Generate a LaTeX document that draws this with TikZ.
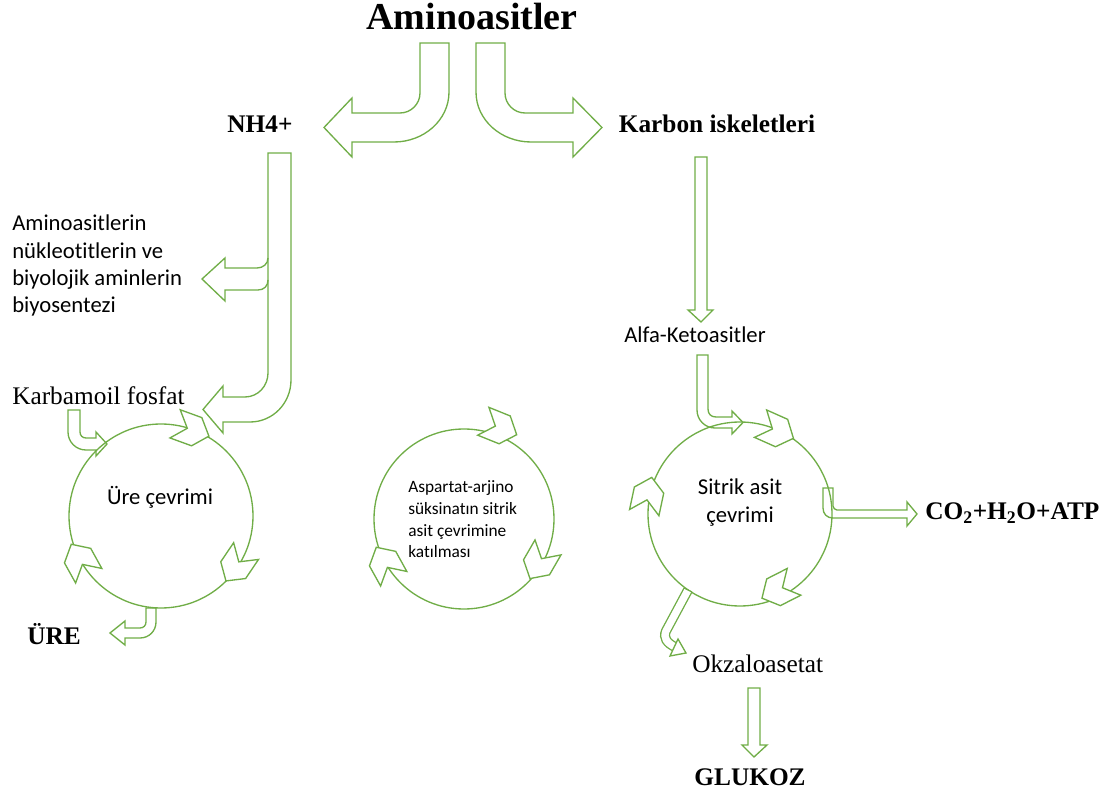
\documentclass[tikz,border=0pt]{standalone}
\usepackage{fontspec}
\setmainfont{Liberation Serif}
\newfontfamily\calib[Ligatures=NoCommon]{Carlito}
\definecolor{grn}{RGB}{112,173,71}
\tikzset{
  blk/.style={draw=grn, line width=1pt, line join=miter},
  cyc/.style={draw=grn, line width=1pt},
  chev/.pic={\draw[draw=grn, line width=1pt, fill=white, line join=miter] (-5,0) -- (-18,-15) -- (5,-15) -- (18,0) -- (5,15) -- (-18,15) -- cycle;},
  lbl/.style={font=\fontsize{19}{23}\selectfont, inner sep=0pt},
  blbl/.style={font=\bfseries\fontsize{19}{23}\selectfont, inner sep=0pt},
  slbl/.style={font=\calib\fontsize{17}{20.5}\selectfont, inner sep=0pt},
}
\begin{document}
\begin{tikzpicture}[x=0.75pt,y=-0.75pt]
\useasboundingbox (0,0) rectangle (1115,798);

% cycles
\draw[cyc] (161,516) circle[radius=92];
\draw[cyc] (464,519) circle[radius=90];
\draw[cyc] (740,514) circle[radius=92];

% chevrons on cycles
\pic[rotate=-20] at (192,430) {chev};
\pic[rotate=-124] at (236,566) {chev};
\pic[rotate=119] at (80,560) {chev};
\pic[rotate=-22] at (500,428) {chev};
\pic[rotate=-120] at (539,563) {chev};
\pic[rotate=119] at (385,563) {chev};
\pic[rotate=-24] at (777,431) {chev};
\pic[rotate=-153] at (778,590) {chev};
\pic[rotate=78] at (648,495) {chev};

% texts
\node[blbl, font=\bfseries\fontsize{28.5}{34}\selectfont, anchor=base] (title) at (472,30) {Aminoasitler};
\node[blbl, anchor=base] (nh4) at (260,133) {NH4+};
\node[blbl, anchor=base] (karbon) at (717,133) {Karbon iskeletleri};
\node[slbl, anchor=base west, align=left] (biyo) at (12,313) {Aminoasitlerin\\nükleotitlerin ve\\biyolojik aminlerin\\biyosentezi};
\node[lbl, anchor=base west] (karbamoil) at (12,405) {Karbamoil fosfat};
\node[slbl, anchor=base] (ure) at (160,505) {Üre çevrimi};
\node[blbl, anchor=base west] (urefinal) at (27,645) {ÜRE};
\node[font=\calib\fontsize{13}{16.3}\selectfont, inner sep=0pt, anchor=base west, align=left] (asp) at (408,558) {Aspartat-arjino\\süksinatın sitrik\\asit çevrimine\\katılması};
\node[slbl, anchor=base] (alfa) at (695,343) {Alfa-Ketoasitler};
\node[slbl, anchor=base, align=center, font=\calib\fontsize{17}{21}\selectfont] (sitrik) at (740,523) {Sitrik asit\\çevrimi};
\node[blbl, anchor=base west] (co2) at (925,520) {CO\textsubscript{2}+H\textsubscript{2}O+ATP};
\node[lbl, anchor=base west] (okza) at (692,672) {Okzaloasetat};
\node[blbl, anchor=base] (glukoz) at (750,785) {GLUKOZ};

% J arrow to NH4+
\draw[blk] (420,43) -- (449,43) -- (449,92) .. controls (449,120) and (424,142) .. (394,142)
  -- (352,142) -- (352,157) -- (324,127.5) -- (352,98) -- (352,113) -- (400,113)
  .. controls (411,113) and (420,104) .. (420,93) -- cycle;
% J arrow to Karbon iskeletleri
\draw[blk] (505,43) -- (476,43) -- (476,92) .. controls (476,120) and (501,142) .. (531,142)
  -- (573,142) -- (573,157) -- (602,127.5) -- (573,98) -- (573,113) -- (525,113)
  .. controls (514,113) and (505,104) .. (505,93) -- cycle;

% NH4+ long arrow to Karbamoil fosfat
\draw[blk] (268,153) -- (291,153) -- (291,380) .. controls (291,403) and (273,422) .. (250,422)
  -- (223,422) -- (223,433) -- (203,409.5) -- (223,386) -- (223,397) -- (245,397)
  .. controls (258,397) and (268,386) .. (268,373) -- cycle;
% branch to biosynthesis
\draw[blk] (268,258) .. controls (268,264) and (263,268) .. (257,268) -- (225,268) -- (225,258)
  -- (202,279) -- (225,301) -- (225,290) -- (258,290) .. controls (264,290) and (268,286) .. (268,280);

% Karbamoil fosfat arrow into urea cycle
\draw[blk] (68,410) -- (80,410) -- (80,432) .. controls (80,435.5) and (82.5,438) .. (86,438)
  -- (96,438) -- (96,432) -- (107,444) -- (96,456) -- (96,450) -- (86,450)
  .. controls (76,450) and (68,442) .. (68,432) -- cycle;

% urea cycle to URE
\draw[blk] (146,608) -- (156,608) -- (156,622) .. controls (156,631) and (149,638) .. (140,638)
  -- (125,638) -- (125,645) -- (110,633) -- (125,621) -- (125,628) -- (140,628)
  .. controls (143.5,628) and (146,625.5) .. (146,622) -- cycle;

% Karbon iskeletleri down to Alfa-Ketoasitler
\draw[blk] (695,157) -- (707,157) -- (707,310) -- (713,310) -- (701,322) -- (688,310) -- (695,310) -- cycle;

% Alfa-Ketoasitler into citric cycle
\draw[blk] (697,355) -- (708,355) -- (708,409) .. controls (708,414) and (711,417) .. (716,417)
  -- (732,417) -- (732,411) -- (743,422.5) -- (732,434) -- (732,428) -- (715,428)
  .. controls (705,428) and (697,420) .. (697,410) -- cycle;

% citric cycle to CO2+H2O+ATP
\draw[blk] (823,488) -- (833,488) -- (833,506) .. controls (833,508) and (835,510) .. (837,510)
  -- (907,510) -- (907,502) -- (917,514) -- (907,526) -- (907,518) -- (833,518)
  .. controls (827,518) and (823,514) .. (823,508) -- cycle;

% citric cycle to Okzaloasetat
\draw[draw=grn, line width=1pt, double=white, double distance=5.5pt]
  (688,590) -- (666,631) .. controls (663,638) and (667,643) .. (675,647);
\draw[blk] (684,588) -- (692,592);
\draw[blk, fill=white] (678,639) -- (686,653) -- (670,656) -- cycle;

% Okzaloasetat to GLUKOZ
\draw[blk] (748,688) -- (760,688) -- (760,745) -- (767,745) -- (754,757) -- (742,745) -- (748,745) -- cycle;
\end{tikzpicture}
\end{document}
